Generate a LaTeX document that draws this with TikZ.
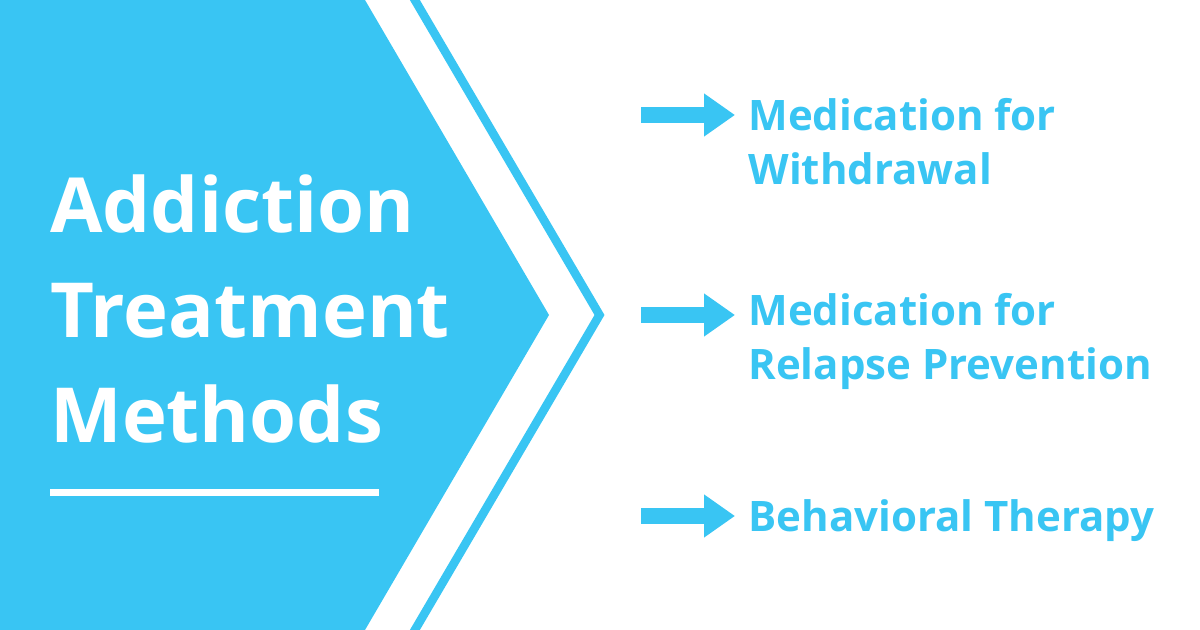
\documentclass[tikz,border=0pt]{standalone}
\usepackage{fontspec}
\setmainfont{Open Sans}
\usetikzlibrary{arrows.meta}
\definecolor{skyblue}{RGB}{57,197,243}
\tikzset{
  titletext/.style={anchor=base west, inner sep=0pt, align=left, text=white,
    font=\fontsize{38}{52.5}\selectfont\bfseries},
  itemtext/.style={anchor=base west, inner sep=0pt, align=left, text=skyblue,
    font=\fontsize{21}{27}\selectfont\bfseries},
  itemarrow/.style={skyblue, line width=8pt, -{Triangle[length=15.5pt,width=20.5pt]}}
}
\begin{document}
\begin{tikzpicture}[x=0.5pt,y=-0.5pt,line join=miter]
  \useasboundingbox (0,0) rectangle (1200,630);
  \clip (0,0) rectangle (1200,630);
  % big pointed banner
  \fill[skyblue] (0,0) -- (365,0) -- (549,315) -- (365,630) -- (0,630) -- cycle;
  % chevron line
  \coordinate (chevtop) at (409,-10);
  \coordinate (chevtip) at (599.5,315);
  \coordinate (chevbot) at (409,640);
  \draw[skyblue, line width=4.3pt] (chevtop) -- (chevtip) -- (chevbot);
  % title (anchor is the baseline of the last line)
  \node[titletext] (title) at (50,443) {Addiction\\Treatment\\Methods};
  \fill[white] (50,489) rectangle (379,496);
  % items
  \foreach \y/\name in {115/one, 315/two, 516/three} {
    \coordinate (\name s) at (641,\y);
    \coordinate (\name e) at (735,\y);
    \draw[itemarrow] (\name s) -- (\name e);
  }
  \node[itemtext] (withdrawal) at (748,185) {Medication for\\Withdrawal};
  \node[itemtext] (relapse) at (748,380) {Medication for\\Relapse Prevention};
  \node[itemtext] (therapy) at (748,531) {Behavioral Therapy};
\end{tikzpicture}
\end{document}
